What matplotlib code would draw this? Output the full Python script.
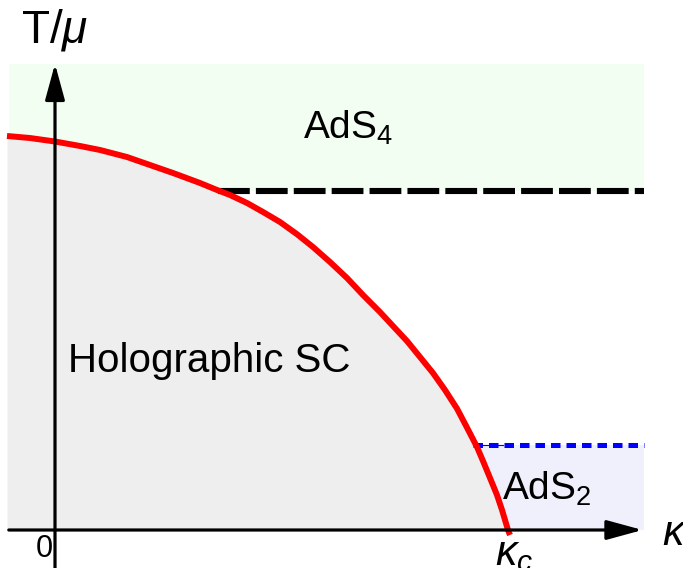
import matplotlib
matplotlib.use("Agg")
import matplotlib.pyplot as plt
import numpy as np

plt.rcParams["font.family"] = ["Liberation Sans", "DejaVu Sans"]
plt.rcParams["mathtext.fontset"] = "custom"
plt.rcParams["mathtext.rm"] = "Liberation Sans"
plt.rcParams["mathtext.it"] = "Liberation Sans:italic"

# phase boundary T_c(kappa), kappa in units of kappa_c
kappa = [-0.1060, -0.0552, 0.0, 0.0552, 0.0993, 0.1589, 0.2097, 0.2605, 0.3201,
         0.3576, 0.3863, 0.4238, 0.4592, 0.4967, 0.5342, 0.5695, 0.6071, 0.6446,
         0.6799, 0.7174, 0.7461, 0.7770, 0.8057, 0.8344, 0.8609, 0.8874, 0.9095,
         0.9316, 0.9448, 0.9603, 0.9757, 0.9868, 1.0000, 1.0044]
t_c = [0.8698, 0.8653, 0.8576, 0.8477, 0.8389, 0.8234, 0.8057, 0.7881, 0.7660,
       0.7506, 0.7395, 0.7219, 0.7020, 0.6799, 0.6530, 0.6247, 0.5916, 0.5563,
       0.5188, 0.4812, 0.4503, 0.4172, 0.3819, 0.3466, 0.3091, 0.2680, 0.2260,
       0.1832, 0.1523, 0.1148, 0.0773, 0.0442, 0.0, -0.0110]

# crossover lines
t_ads4 = 0.748      # black dashed
k_ads4 = 0.360
t_ads2 = 0.188      # blue dashed
k_ads2 = 0.923

# plotted window (shaded part)
k_min, k_max = -0.102, 1.300
t_top = 1.029

px = 453.0          # pixels per unit, same on both axes
W, H = 683, 568
fig = plt.figure(figsize=(W / 100, H / 100), dpi=100)
ax = fig.add_axes([0, 0, 1, 1])
ax.set_xlim(-55 / px, (W - 55) / px)
ax.set_ylim(-(H - 530) / px, 530 / px)
ax.axis("off")

kk = np.array(kappa)
tt = np.array(t_c)

# background regions
ax.fill_between([k_min, k_max], 0, t_top, color="#f2fef2", lw=0, zorder=0)
ax.fill_between([k_min, k_max], 0, t_ads4, color="white", lw=0, zorder=0.5)
ax.fill_between([k_ads2, k_max], 0, t_ads2, color="#f0f0fc", lw=0, zorder=0.7)
ax.fill_between(kk, 0, np.clip(tt, 0, None), color="#eeeeee", lw=0, zorder=1)

# lines
ax.plot([k_ads4, k_max], [t_ads4, t_ads4], color="black", lw=4.4,
        dashes=(5.2, 1.0), solid_capstyle="butt", zorder=3)
ax.plot([k_ads2, 0.99], [t_ads2, t_ads2], color="blue", lw=0.8, zorder=3)
ax.plot([k_ads2, k_max], [t_ads2, t_ads2], color="blue", lw=3.6,
        dashes=(1.9, 1.2), dash_capstyle="butt", zorder=3)
ax.plot(kk, tt, color="red", lw=4.3, solid_capstyle="butt",
        solid_joinstyle="round", zorder=4)

# axes with arrows
arrow = dict(arrowstyle="-|>,head_length=1.1,head_width=0.3", mutation_scale=20,
             lw=2.3, color="black", shrinkA=0, shrinkB=0)
ax.annotate("", xy=(0, t_top), xytext=(0, -(H - 530) / px), arrowprops=arrow, zorder=5)
ax.annotate("", xy=(1.297, 0), xytext=(k_min, 0), arrowprops=arrow, zorder=5)

# labels
ax.text(-0.075, 1.077, r"T/$\mu$", fontsize=33, ha="left", va="baseline")
ax.text(0.547, 0.863, r"AdS$_4$", fontsize=28, ha="left", va="baseline", zorder=6)
ax.text(0.987, 0.066, r"AdS$_2$", fontsize=28, ha="left", va="baseline", zorder=6)
ax.text(0.029, 0.349, "Holographic SC", fontsize=29, ha="left", va="baseline", zorder=6)
ax.text(-0.004, -0.060, "0", fontsize=22, ha="right", va="baseline")
ax.text(0.971, -0.078, r"$\kappa_c$", fontsize=31, ha="left", va="baseline")
ax.text(1.340, -0.033, r"$\kappa$", fontsize=31, ha="left", va="baseline")

fig.savefig("out.png", dpi=100)
